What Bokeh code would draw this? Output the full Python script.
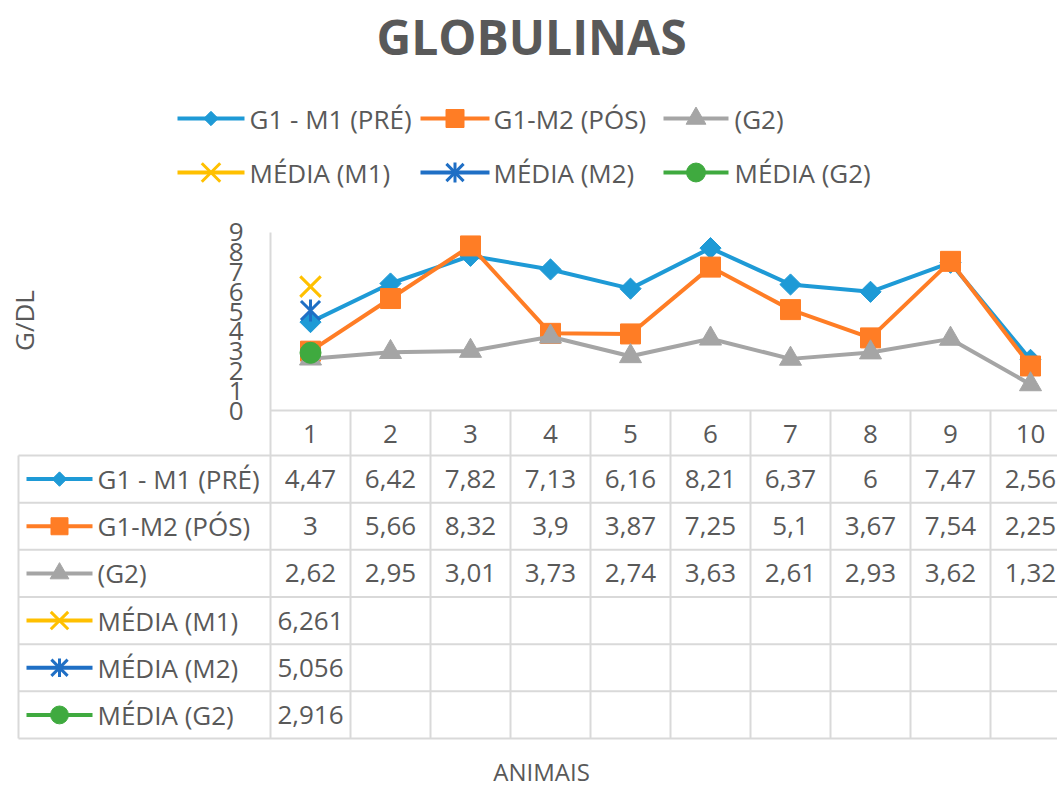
import math
from bokeh.plotting import figure
from bokeh.models import Range1d
from bokeh.embed import file_html
from bokeh.resources import INLINE
from bokeh.core.properties import value

# ---------------- data ----------------
categories = ["1", "2", "3", "4", "5", "6", "7", "8", "9", "10"]
x_pos = [1, 2, 3, 4, 5, 6, 7, 8, 9, 10]
g1_m1_pre = [4.47, 6.42, 7.82, 7.13, 6.16, 8.21, 6.37, 6.0, 7.47, 2.56]
g1_m2_pos = [3.0, 5.66, 8.32, 3.9, 3.87, 7.25, 5.1, 3.67, 7.54, 2.25]
g2 = [2.62, 2.95, 3.01, 3.73, 2.74, 3.63, 2.61, 2.93, 3.62, 1.32]
media_x = [1]
media_m1 = [6.261]
media_m2 = [5.056]
media_g2 = [2.916]
y_ticks = [0, 1, 2, 3, 4, 5, 6, 7, 8, 9]
series_names = ["G1 - M1 (PRÉ)", "G1-M2 (PÓS)", "(G2)",
                "MÉDIA (M1)", "MÉDIA (M2)", "MÉDIA (G2)"]
title_text = "GLOBULINAS"
y_label = "G/DL"
x_label = "ANIMAIS"

# ---------------- layout / style ----------------
W, H = 1057, 787
OFF = 0
COL_W = 80.0          # px per category
X0_PAGE = 230.0       # page x of category 0
Y_PX = 19.78          # px per unit of G/DL
Y0_PAGE = 410.0       # page y of value 0

def px_x(page_x):
    return (page_x - X0_PAGE) / COL_W

def px_y(page_y):
    return (Y0_PAGE - page_y) / Y_PX

BLUE = "#1E9AD6"
ORANGE = "#FF7D25"
GRAY = "#A5A5A5"
YELLOW = "#FFC000"
DBLUE = "#1F6FC5"
GREEN = "#3FAA3F"
TXT = "#595959"
GRID = "#D9D9D9"
FONT = value("Open Sans")

p = figure(width=W, height=H,
           x_range=Range1d(px_x(OFF), px_x(OFF + W)),
           y_range=Range1d(px_y(OFF + H), px_y(OFF)),
           x_axis_location=None, y_axis_location=None,
           output_backend="svg", toolbar_location=None,
           min_border=0, outline_line_color=None)
p.grid.visible = False
p.background_fill_color = "white"
p.border_fill_color = "white"

def txt(x, y, t, size="26px", align="center", style="normal", angle=0.0, color=TXT):
    p.text(x=x, y=y, text=t, text_font=FONT, text_font_size=size,
           text_align=align, text_baseline="middle", text_color=color,
           text_font_style=style, angle=angle)

# ---------------- table grid ----------------
X_END = px_x(OFF + W) + 1
row_edges_page = [455 + 47.17 * r for r in range(7)]
row_centers_page = [(row_edges_page[r] + row_edges_page[r + 1]) / 2 for r in range(6)]
bottom_y = px_y(row_edges_page[-1])

# vertical lines
vx = [0.5 + k for k in range(0, 10)]
p.segment(x0=vx[1:], y0=[0] * 9, x1=vx[1:], y1=[bottom_y] * 9,
          line_color=GRID, line_width=2)
p.segment(x0=[px_x(18)], y0=[px_y(row_edges_page[0])], x1=[px_x(18)], y1=[bottom_y],
          line_color=GRID, line_width=2)
# horizontal lines
p.segment(x0=[0.5], y0=[0], x1=[X_END], y1=[0], line_color=GRID, line_width=2)
hy = [px_y(e) for e in row_edges_page]
p.segment(x0=[px_x(18)] * 7, y0=hy, x1=[X_END] * 7, y1=hy, line_color=GRID, line_width=2)
# value axis line
p.segment(x0=[0.5], y0=[y_ticks[-1]], x1=[0.5], y1=[bottom_y], line_color=GRID, line_width=2)

# y tick labels
txt([px_x(243)] * len(y_ticks), y_ticks, [str(t) for t in y_ticks], align="right")
# category labels
txt(x_pos, [px_y(433)] * len(x_pos), categories)

# ---------------- markers helper ----------------
def draw_marker(kind, xs, ys, scale=1.0, dscale=1.0):
    if kind == 0:
        p.scatter(xs, ys, marker="square", angle=math.pi / 4, size=15 * scale * dscale,
                  fill_color=BLUE, line_color=BLUE)
    elif kind == 1:
        p.scatter(xs, ys, marker="square", size=20 * scale,
                  fill_color=ORANGE, line_color=ORANGE)
    elif kind == 2:
        p.scatter(xs, ys, marker="triangle", size=22 * scale,
                  fill_color=GRAY, line_color=GRAY)
    elif kind == 3:
        p.scatter(xs, ys, marker="x", size=29 * scale, line_color=YELLOW, line_width=3)
    elif kind == 4:
        p.scatter(xs, ys, marker="x", size=27 * scale, line_color=DBLUE, line_width=3)
        p.scatter(xs, ys, marker="dash", angle=math.pi / 2, size=22 * scale,
                  line_color=DBLUE, line_width=3)
    elif kind == 5:
        p.scatter(xs, ys, marker="circle", size=21 * scale,
                  fill_color=GREEN, line_color=GREEN)

colors = [BLUE, ORANGE, GRAY, YELLOW, DBLUE, GREEN]

# ---------------- data series ----------------
for k, ys in enumerate([g1_m1_pre, g1_m2_pos, g2]):
    p.line(x_pos, ys, line_color=colors[k], line_width=4, line_join="round")
    draw_marker(k, x_pos, ys)
for k, ys in zip([3, 4, 5], [media_m1, media_m2, media_g2]):
    draw_marker(k, media_x, ys)

# ---------------- table contents ----------------
def fmt(v):
    return f"{v:g}".replace(".", ",")

table_rows = [g1_m1_pre, g1_m2_pos, g2, media_m1, media_m2, media_g2]
for r, vals in enumerate(table_rows):
    yc = px_y(row_centers_page[r])
    xs = x_pos[:len(vals)]
    txt(xs, [yc] * len(vals), [fmt(v) for v in vals])
    # legend sample in row header
    p.line([px_x(26), px_x(92)], [yc, yc], line_color=colors[r], line_width=4)
    draw_marker(r, [px_x(59)], [yc], scale=0.85, dscale=0.8)
    txt([px_x(97)], [yc], [series_names[r]], align="left")

# ---------------- legend ----------------
leg_rows_y = [118, 172]
leg_line = [(177, 244), (420, 489), (663, 728)]
leg_text_x = [249, 493, 734]
for k in range(6):
    row, col = divmod(k, 3)
    yy = px_y(leg_rows_y[row])
    a, b = leg_line[col]
    p.line([px_x(a), px_x(b)], [yy, yy], line_color=colors[k], line_width=4)
    draw_marker(k, [px_x((a + b) / 2)], [yy], scale=0.9, dscale=0.75)
    txt([px_x(leg_text_x[col])], [yy], [series_names[k]], align="left")

# ---------------- titles ----------------
txt([px_x(531)], [px_y(36)], [title_text], size="48px", style="bold")
txt([px_x(23)], [px_y(320)], [y_label], angle=math.pi / 2)
txt([px_x(541)], [px_y(771)], [x_label], size="24px")

open("out.html", "w").write(file_html(p, INLINE))
